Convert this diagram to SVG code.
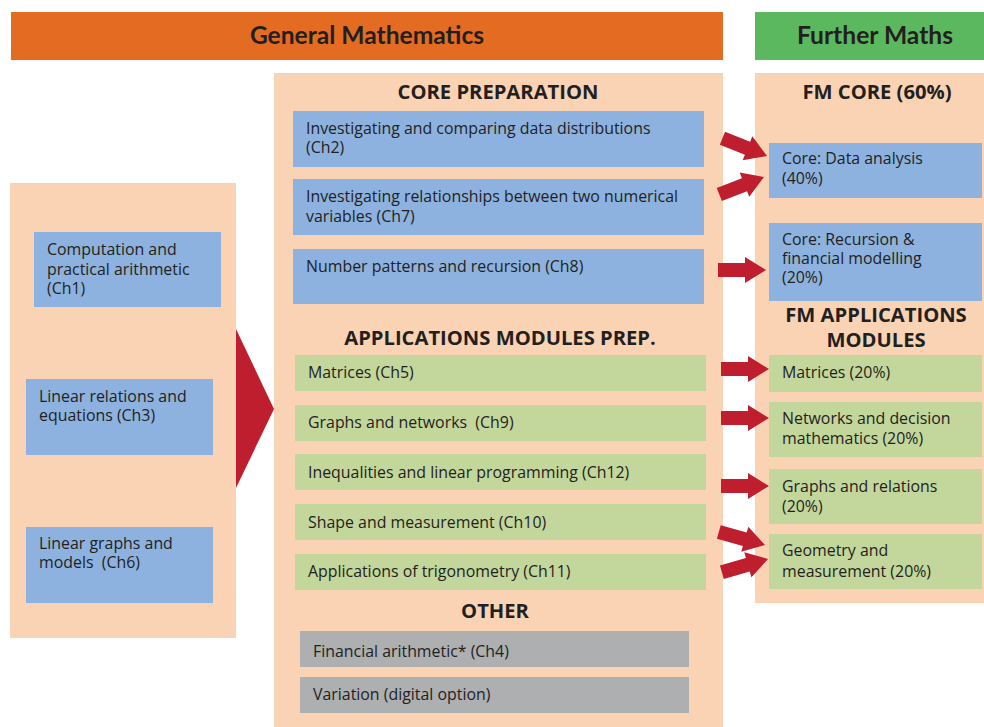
<svg xmlns="http://www.w3.org/2000/svg" xmlns:xlink="http://www.w3.org/1999/xlink" width="984" height="727" viewBox="0 0 984 727">
  <style>
    .panel { fill: #F9D3B4; }
    .blue { fill: #8DB2DF; }
    .green { fill: #C3D69B; }
    .gray { fill: #ADAFB1; }
    .arrow { fill: #BE1E2D; }
    .txt { font-family: "Open Sans", "Noto Sans", "Liberation Sans", sans-serif; font-size: 15.9px; fill: #231F20; white-space: pre; }
    .head { font-family: "Open Sans", "Noto Sans", "Liberation Sans", sans-serif; font-size: 20.2px; font-weight: bold; fill: #231F20; text-anchor: middle; }
    .banner { font-family: Lato, "Liberation Sans", sans-serif; font-size: 24.6px; font-weight: bold; fill: #231F20; text-anchor: middle; }
  </style>
  <defs>
    <!-- block arrow, tip at origin, pointing along +x -->
    <path id="arr" d="M0,0 L-21,-13 L-21,-7 L-48,-7 L-48,7 L-21,7 L-21,13 Z"/>
  </defs>

  <rect width="984" height="727" fill="#FFFFFF"/>

  <!-- banners -->
  <g id="banner-general">
    <rect x="11" y="12" width="712" height="48" fill="#E36C22"/>
    <text class="banner" x="367" y="44">General Mathematics</text>
  </g>
  <g id="banner-further">
    <rect x="755" y="12" width="229" height="48" fill="#5CB85F"/>
    <text class="banner" x="875" y="44">Further Maths</text>
  </g>

  <!-- background panels -->
  <g id="panel-left"><rect class="panel" x="10" y="183" width="226" height="455"/></g>
  <g id="panel-middle"><rect class="panel" x="274" y="73" width="449" height="654"/></g>
  <g id="panel-right"><rect class="panel" x="755" y="73" width="229" height="530"/></g>

  <!-- left column topics -->
  <g id="ch1">
    <rect class="blue" x="34" y="232" width="187" height="75"/>
    <text class="txt" x="47" y="255">Computation and</text>
    <text class="txt" x="47" y="275">practical arithmetic</text>
    <text class="txt" x="47" y="294">(Ch1)</text>
  </g>
  <g id="ch3">
    <rect class="blue" x="26" y="379" width="187" height="76"/>
    <text class="txt" x="39" y="402">Linear relations and</text>
    <text class="txt" x="39" y="421">equations (Ch3)</text>
  </g>
  <g id="ch6">
    <rect class="blue" x="26" y="527" width="187" height="76"/>
    <text class="txt" x="39" y="549">Linear graphs and</text>
    <text class="txt" x="39" y="568" xml:space="preserve">models  (Ch6)</text>
  </g>

  <!-- core preparation -->
  <g id="core-prep">
    <text class="head" x="498" y="99">CORE PREPARATION</text>
  </g>
  <g id="ch2">
    <rect class="blue" x="293" y="111" width="411" height="56"/>
    <text class="txt" x="306" y="134">Investigating and comparing data distributions</text>
    <text class="txt" x="306" y="153">(Ch2)</text>
  </g>
  <g id="ch7">
    <rect class="blue" x="293" y="179" width="411" height="56"/>
    <text class="txt" x="306" y="202">Investigating relationships between two numerical</text>
    <text class="txt" x="306" y="222">variables (Ch7)</text>
  </g>
  <g id="ch8">
    <rect class="blue" x="293" y="249" width="411" height="55"/>
    <text class="txt" x="306" y="272">Number patterns and recursion (Ch8)</text>
  </g>

  <!-- applications modules preparation -->
  <g id="apps-prep">
    <text class="head" x="500" y="345">APPLICATIONS MODULES PREP.</text>
  </g>
  <g id="ch5">
    <rect class="green" x="295" y="355" width="411" height="36"/>
    <text class="txt" x="308" y="378">Matrices (Ch5)</text>
  </g>
  <g id="ch9">
    <rect class="green" x="295" y="405" width="411" height="36"/>
    <text class="txt" x="308" y="428" xml:space="preserve">Graphs and networks  (Ch9)</text>
  </g>
  <g id="ch12">
    <rect class="green" x="295" y="454" width="411" height="36"/>
    <text class="txt" x="308" y="478">Inequalities and linear programming (Ch12)</text>
  </g>
  <g id="ch10">
    <rect class="green" x="295" y="504" width="411" height="36"/>
    <text class="txt" x="308" y="528">Shape and measurement (Ch10)</text>
  </g>
  <g id="ch11">
    <rect class="green" x="295" y="554" width="411" height="36"/>
    <text class="txt" x="308" y="577">Applications of trigonometry (Ch11)</text>
  </g>

  <!-- other -->
  <g id="other">
    <text class="head" x="495" y="618">OTHER</text>
  </g>
  <g id="ch4">
    <rect class="gray" x="300" y="631" width="389" height="36"/>
    <text class="txt" x="313" y="657">Financial arithmetic* (Ch4)</text>
  </g>
  <g id="variation">
    <rect class="gray" x="300" y="677" width="389" height="36"/>
    <text class="txt" x="313" y="700">Variation (digital option)</text>
  </g>

  <!-- further maths core -->
  <g id="fm-core">
    <text class="head" x="877" y="99">FM CORE (60%)</text>
  </g>
  <g id="fm-data">
    <rect class="blue" x="769" y="143" width="213" height="55"/>
    <text class="txt" x="782" y="164">Core: Data analysis</text>
    <text class="txt" x="782" y="184">(40%)</text>
  </g>
  <g id="fm-recursion">
    <rect class="blue" x="769" y="223" width="213" height="78"/>
    <text class="txt" x="782" y="245">Core: Recursion &amp;</text>
    <text class="txt" x="782" y="264">financial modelling</text>
    <text class="txt" x="782" y="283">(20%)</text>
  </g>

  <!-- further maths applications -->
  <g id="fm-apps">
    <text class="head" x="876" y="322">FM APPLICATIONS</text>
    <text class="head" x="876" y="347">MODULES</text>
  </g>
  <g id="fm-matrices">
    <rect class="green" x="769" y="355" width="213" height="37"/>
    <text class="txt" x="782" y="378">Matrices (20%)</text>
  </g>
  <g id="fm-networks">
    <rect class="green" x="769" y="402" width="213" height="55"/>
    <text class="txt" x="782" y="424">Networks and decision</text>
    <text class="txt" x="782" y="444">mathematics (20%)</text>
  </g>
  <g id="fm-graphs">
    <rect class="green" x="769" y="469" width="213" height="55"/>
    <text class="txt" x="782" y="492">Graphs and relations</text>
    <text class="txt" x="782" y="512">(20%)</text>
  </g>
  <g id="fm-geometry">
    <rect class="green" x="769" y="534" width="213" height="55"/>
    <text class="txt" x="782" y="556">Geometry and</text>
    <text class="txt" x="782" y="577">measurement (20%)</text>
  </g>

  <!-- connectors -->
  <g id="connectors" class="arrow">
    <polygon points="236,329 274,409 236,488"/>
    <use xlink:href="#arr" transform="translate(767,156) rotate(21.8)"/>
    <use xlink:href="#arr" transform="translate(764,177) rotate(-21.4)"/>
    <use xlink:href="#arr" transform="translate(766,270)"/>
    <use xlink:href="#arr" transform="translate(769,369)"/>
    <use xlink:href="#arr" transform="translate(769,418)"/>
    <use xlink:href="#arr" transform="translate(769,486)"/>
    <use xlink:href="#arr" transform="translate(765,545) rotate(15.8)"/>
    <use xlink:href="#arr" transform="translate(768,559) rotate(-16)"/>
  </g>
</svg>
